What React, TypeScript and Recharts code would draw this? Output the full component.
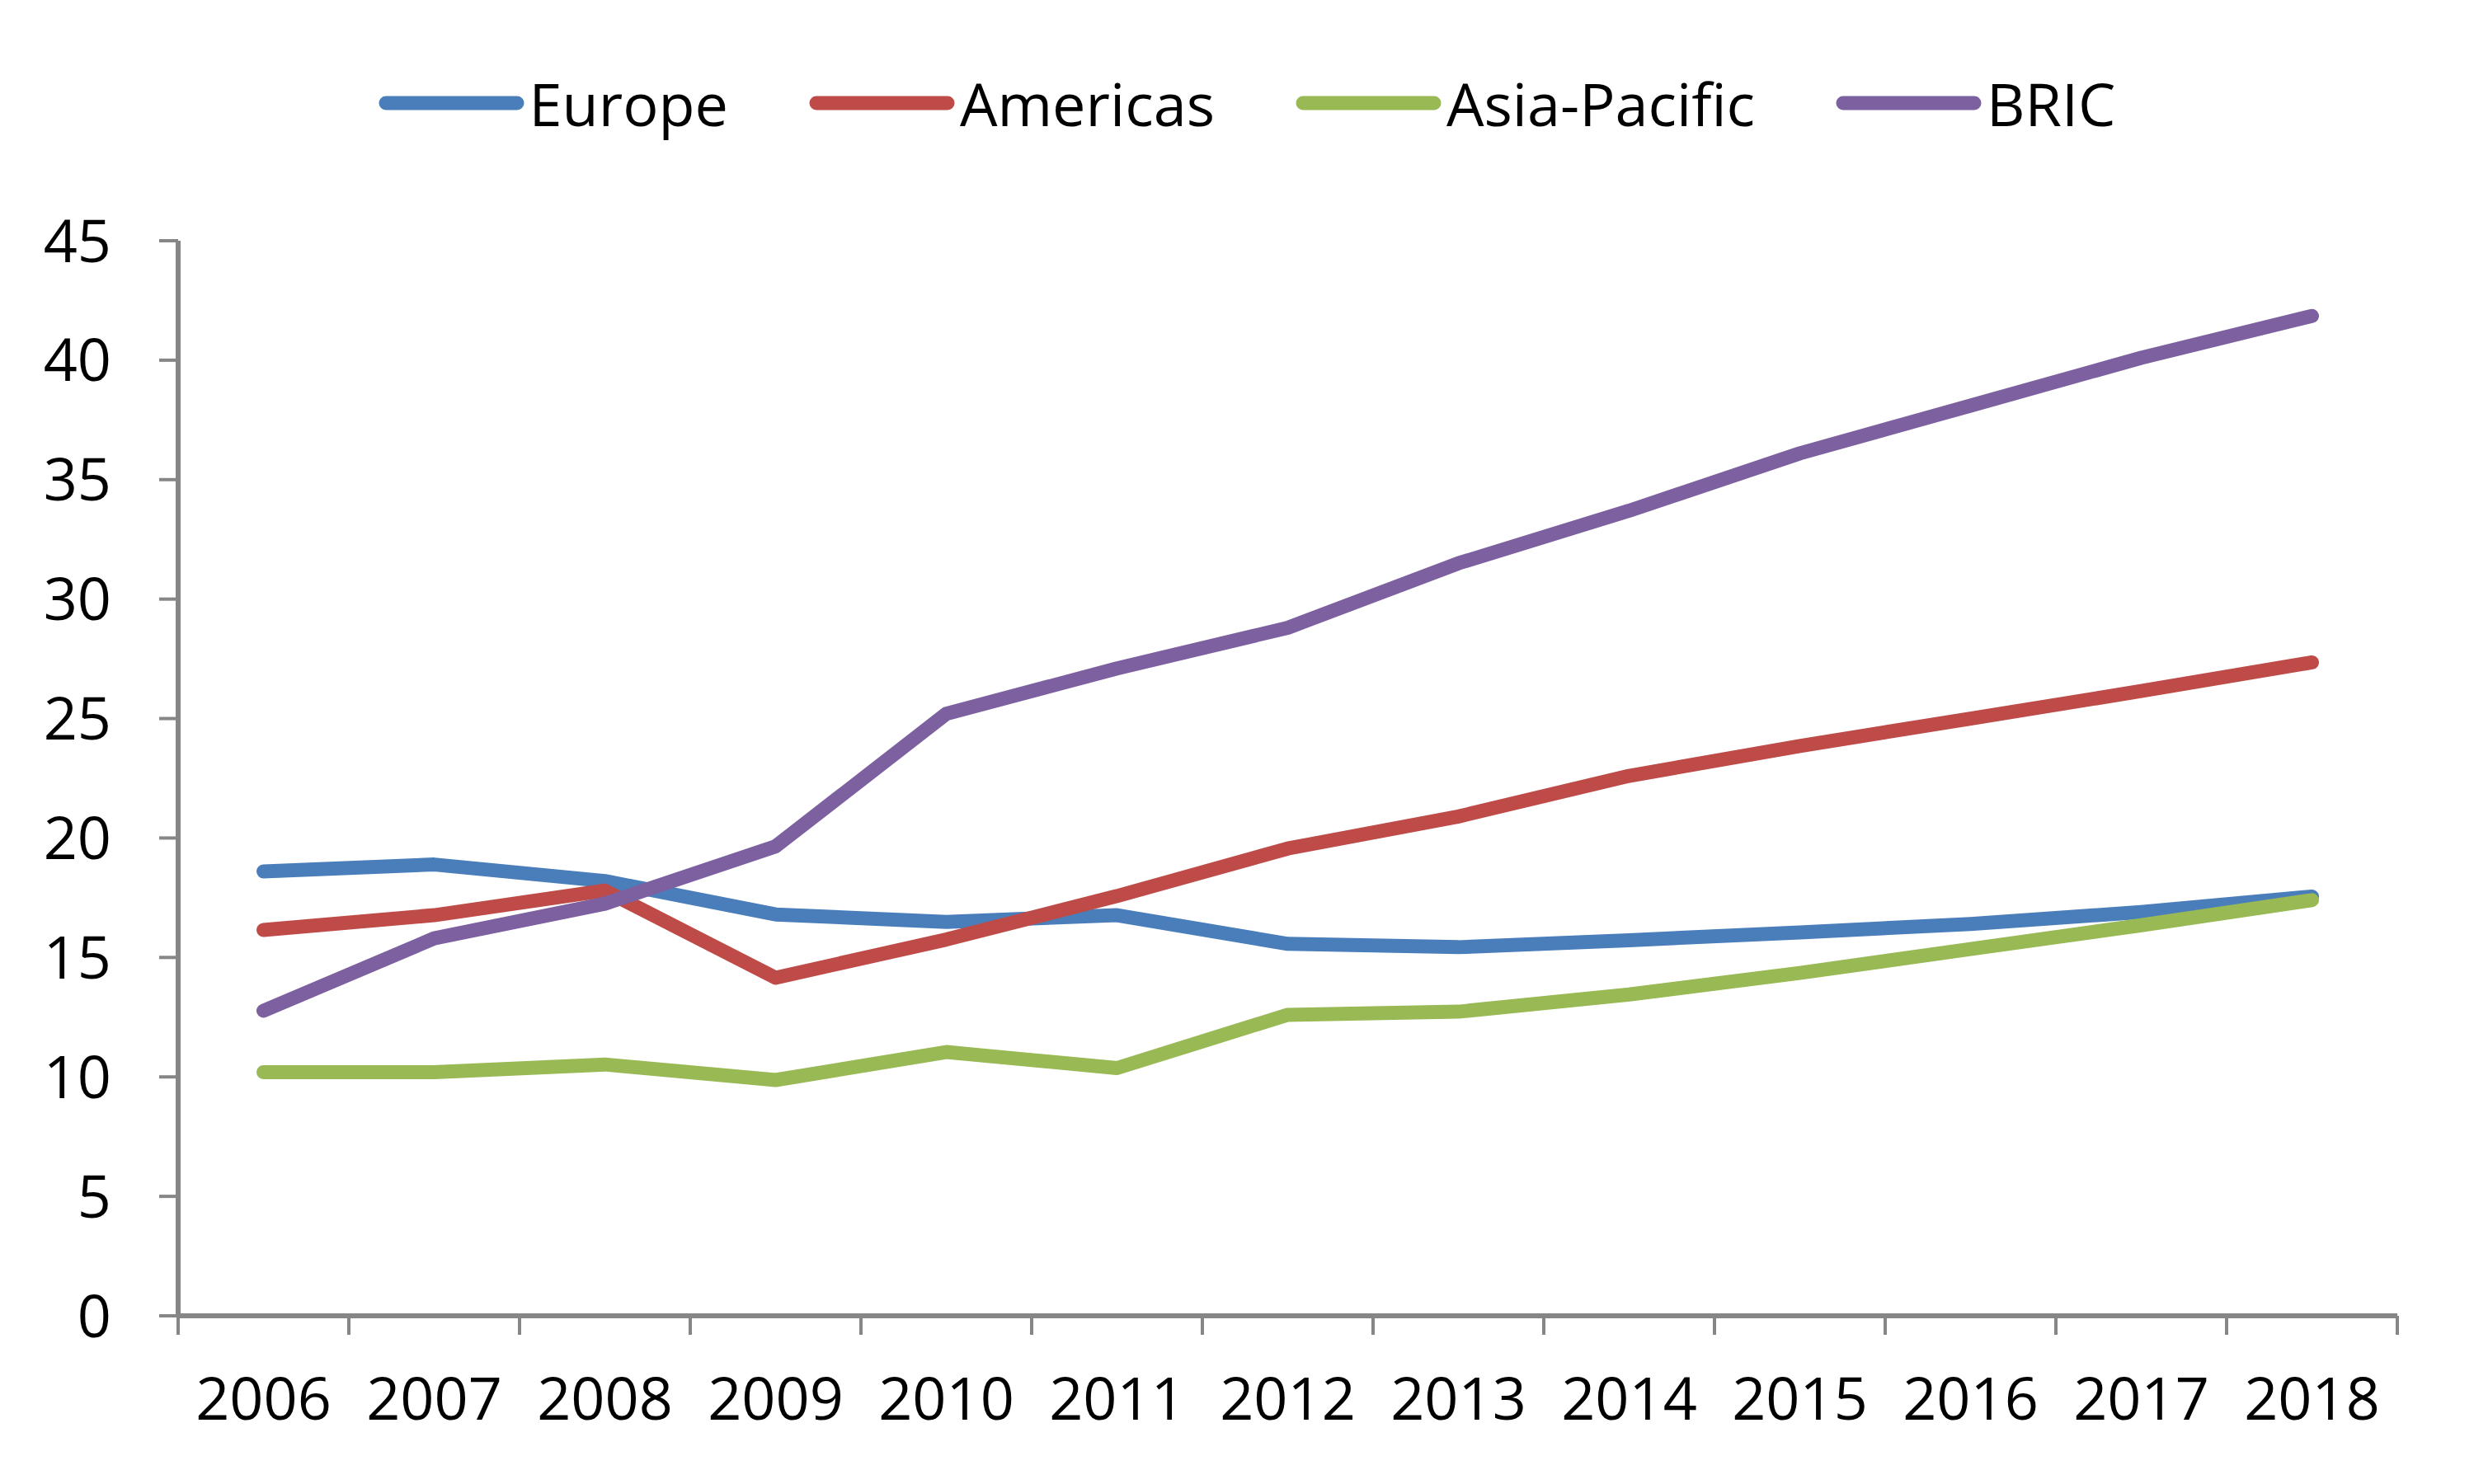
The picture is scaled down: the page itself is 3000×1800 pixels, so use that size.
import React from 'react';
import { LineChart, Line, XAxis, YAxis, Legend } from 'recharts';

const years = ['2006', '2007', '2008', '2009', '2010', '2011', '2012', '2013', '2014', '2015', '2016', '2017', '2018'];
const europe = [18.6, 18.89, 18.2, 16.8, 16.49, 16.77, 15.57, 15.43, 15.72, 16.05, 16.4, 16.9, 17.55];
const americas = [16.15, 16.77, 17.8, 14.15, 15.75, 17.57, 19.56, 20.9, 22.6, 23.85, 25.0, 26.15, 27.35];
const asiaPacific = [10.2, 10.2, 10.52, 9.87, 11.04, 10.37, 12.6, 12.73, 13.45, 14.35, 15.35, 16.35, 17.4];
const bric = [12.77, 15.8, 17.25, 19.65, 25.2, 27.1, 28.8, 31.5, 33.7, 36.1, 38.1, 40.1, 41.85];
const yTicks = [0, 5, 10, 15, 20, 25, 30, 35, 40, 45];

// x ticks: integer values are category boundaries (tick marks), half values are category centres (labels)
const xTicks: number[] = [];
for (let i = 0; i <= years.length; i++) {
  xTicks.push(i);
  if (i < years.length) xTicks.push(i + 0.5);
}

const seriesDefs = [
  { key: 'Europe', values: europe, color: '#4A7EBB' },
  { key: 'Americas', values: americas, color: '#BE4B48' },
  { key: 'Asia-Pacific', values: asiaPacific, color: '#98B954' },
  { key: 'BRIC', values: bric, color: '#7D60A0' },
];

const data = years.map((year, i) => {
  const row: Record<string, any> = { year, pos: i + 0.5 };
  seriesDefs.forEach((s) => {
    row[s.key] = s.values[i];
  });
  return row;
});

const FONT = '"Open Sans", sans-serif';
const FONT_SIZE = 72;
const AXIS_COLOR = '#868686';

const XTick = (props: any) => {
  const { x, y, payload } = props;
  const v = payload.value;
  if (Number.isInteger(v)) {
    return <line x1={x} y1={y} x2={x} y2={y + 23} stroke={AXIS_COLOR} strokeWidth={4} />;
  }
  const label = years[Math.floor(v)];
  return (
    <text x={x} y={y + 75} dy="0.71em" textAnchor="middle" fill="#000" fontSize={FONT_SIZE} fontFamily={FONT}>
      {label}
    </text>
  );
};

const LegendContent = (props: any) => {
  const payload = [...(props.payload || [])].sort(
    (a: any, b: any) =>
      seriesDefs.findIndex((s) => s.key === a.value) - seriesDefs.findIndex((s) => s.key === b.value)
  );
  return (
    <div
      style={{
        width: 3000,
        height: 292,
        position: 'relative',
        fontFamily: FONT,
        fontSize: FONT_SIZE,
        color: '#000',
      }}
    >
      <div
        style={{
          position: 'absolute',
          top: 125,
          left: 12,
          width: 3000,
          transform: 'translateY(-50%)',
          display: 'flex',
          justifyContent: 'center',
          alignItems: 'center',
          gap: 98,
        }}
      >
        {payload.map((entry: any) => (
          <div key={entry.value} style={{ display: 'flex', alignItems: 'center' }}>
            <svg width={177} height={18} style={{ display: 'block' }}>
              <line x1={9} y1={9} x2={168} y2={9} stroke={entry.color} strokeWidth={17} strokeLinecap="round" />
            </svg>
            <span style={{ marginLeft: 6, lineHeight: 1, whiteSpace: 'nowrap' }}>{entry.value}</span>
          </div>
        ))}
      </div>
    </div>
  );
};

export default function App() {
  return (
    <div style={{ position: 'absolute', left: 0, top: 0, width: 3000, height: 1800, background: '#fff' }}>
      <LineChart width={3000} height={1800} data={data} margin={{ top: 0, right: 93, bottom: 0, left: 0 }}>
        <Legend verticalAlign="top" align="center" content={<LegendContent />} />
        <XAxis
          dataKey="pos"
          type="number"
          domain={[0, years.length]}
          allowDataOverflow
          ticks={xTicks}
          interval={0}
          height={204}
          tickSize={0}
          tickMargin={0}
          tickLine={false}
          axisLine={{ stroke: AXIS_COLOR, strokeWidth: 6 }}
          tick={<XTick />}
        />
        <YAxis
          type="number"
          domain={[0, 45]}
          ticks={yTicks}
          interval={0}
          width={216}
          tickSize={23}
          tickMargin={58}
          axisLine={{ stroke: AXIS_COLOR, strokeWidth: 6 }}
          tickLine={{ stroke: AXIS_COLOR, strokeWidth: 4 }}
          tick={{ fill: '#000', fontSize: FONT_SIZE, fontFamily: FONT }}
        />
        {seriesDefs.map((s) => (
          <Line
            key={s.key}
            type="linear"
            dataKey={s.key}
            name={s.key}
            stroke={s.color}
            strokeWidth={17}
            strokeLinejoin="round"
            strokeLinecap="round"
            dot={false}
            activeDot={false}
            isAnimationActive={false}
          />
        ))}
      </LineChart>
    </div>
  );
}
